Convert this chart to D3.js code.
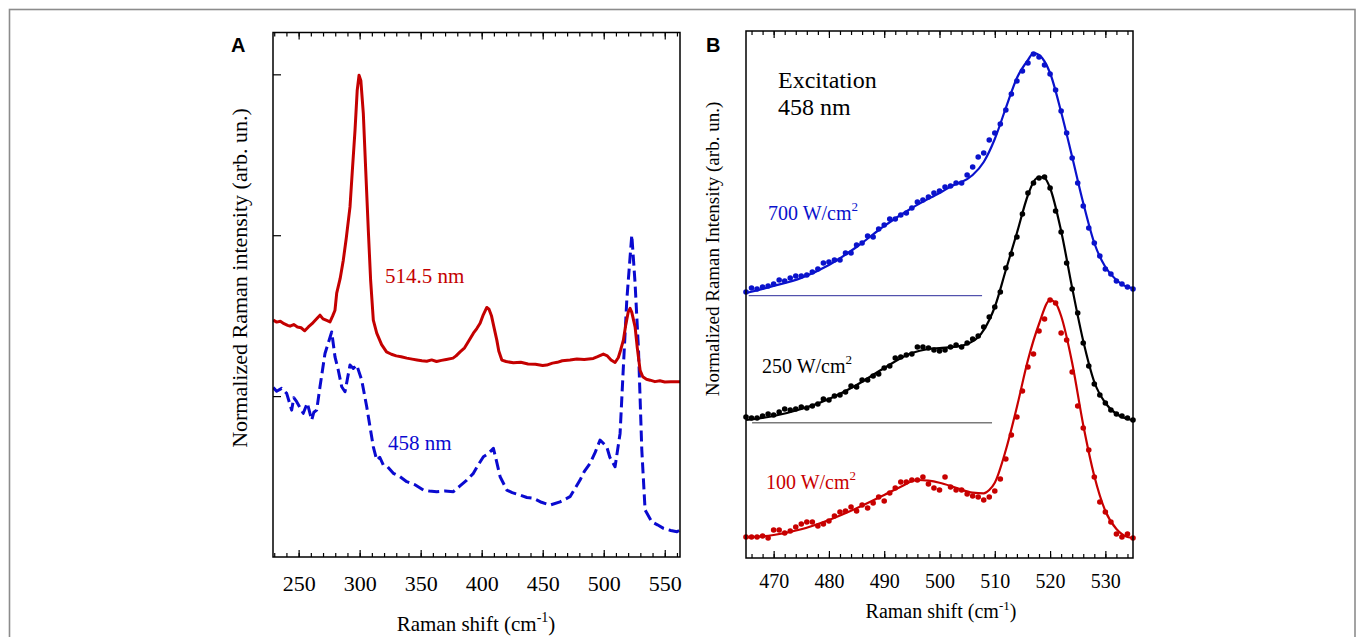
<!DOCTYPE html>
<html>
<head>
<meta charset="utf-8">
<script src="https://cdn.jsdelivr.net/npm/d3@7"></script>
<style>
  html, body { margin: 0; padding: 0; background: #fff; }
  svg { display: block; }
  text { font-family: "Liberation Serif", "Times New Roman", serif; }
  text.panel { font-family: "Liberation Sans", Arial, sans-serif; font-weight: bold; }
</style>
</head>
<body>
<svg id="fig" width="1358" height="637"></svg>
<script>
// ---------- Panel A: Raman spectra at two excitation wavelengths ----------
// [Raman shift (cm-1), normalized intensity]
const spectrum514 = [
  [229.2,1.472],[232,1.46],[235,1.465],[238,1.45],[241,1.44],[243,1.435],[246,1.445],[249,1.43],
  [252,1.425],[255,1.406],[258,1.43],[261,1.45],[264,1.475],[267.5,1.503],[270,1.48],[273,1.47],
  [275.7,1.461],[278,1.5],[279.8,1.534],[281.2,1.64],[284,1.73],[286.6,1.845],[289,1.98],[292.1,2.176],
  [294,2.4],[296.2,2.652],[298,2.9],[299.5,2.994],[301,2.96],[303,2.758],[305,2.4],[307.1,2.031],
  [309,1.72],[311.2,1.472],[314,1.391],[318,1.32],[322,1.275],[326,1.26],[330,1.25],[334,1.245],
  [338.6,1.236],[343,1.23],[347,1.225],[351,1.22],[355,1.217],[359,1.225],[363,1.215],[367,1.222],
  [371,1.228],[376.5,1.236],[379,1.25],[382.3,1.275],[386,1.3],[390,1.35],[393.2,1.391],[396,1.42],
  [398.7,1.453],[401,1.5],[404.2,1.551],[406,1.54],[408,1.5],[410,1.43],[412.4,1.348],[414,1.28],
  [416.5,1.224],[420,1.215],[426,1.207],[432,1.21],[438,1.2],[444,1.198],[450,1.19],[453.3,1.193],
  [458,1.205],[462,1.21],[466,1.22],[472.4,1.224],[478,1.23],[484,1.228],[491.5,1.234],[495,1.245],
  [499.7,1.261],[503,1.25],[506,1.225],[509.3,1.209],[512,1.24],[514,1.29],[516.1,1.348],[518,1.44],
  [520,1.52],[521.6,1.545],[523,1.52],[525.7,1.43],[527.5,1.3],[529.8,1.161],[532,1.12],[535,1.105],
  [538,1.099],[542,1.09],[546,1.095],[550,1.088],[555,1.09],[562.5,1.089]
];
const spectrum458 = [
  [229.2,1.054],[232,1.03],[236.1,1.048],[240.2,1.017],[244.3,0.913],[246,0.99],[248.4,0.965],
  [251,0.93],[253.8,0.893],[257.1,0.957],[260.7,0.851],[262.5,0.9],[264.8,0.913],[267.5,1.058],
  [271.6,1.265],[277.1,1.399],[279.8,1.244],[282.5,1.161],[285.3,1.058],[288,1.027],[292.1,1.193],
  [294.8,1.172],[297.6,1.193],[301.7,1.099],[305.8,0.934],[308.5,0.809],[311.2,0.685],[314,0.602],
  [316.5,0.62],[319.4,0.571],[323,0.56],[327.6,0.52],[333,0.5],[338.6,0.468],[345,0.45],[352.2,0.416],
  [357,0.41],[363.2,0.406],[370,0.41],[376.8,0.406],[382,0.44],[387.8,0.478],[393.2,0.52],[397,0.57],
  [401.4,0.623],[405,0.64],[409.6,0.675],[412,0.6],[415.1,0.499],[420.6,0.416],[425,0.4],[431.5,0.385],
  [437,0.37],[442.4,0.365],[449,0.34],[456,0.323],[464.2,0.343],[472.4,0.375],[476,0.42],[480.6,0.478],
  [484,0.53],[488.8,0.582],[493,0.65],[497,0.727],[502.5,0.685],[505,0.62],[509.3,0.561],[513.4,0.768],
  [516.1,1.182],[518.9,1.596],[521.6,1.865],[523,2.0],[525.7,1.7],[528.5,1.286],[531.2,0.665],
  [533.9,0.292],[539.4,0.219],[544,0.2],[549,0.178],[555,0.165],[560,0.157],[562.5,0.168]
];
const ticksA_major = [250, 300, 350, 400, 450, 500, 550];
const ticksA_minor = d3.range(230, 561, 10);
const ticksA_y = [1, 2, 3];

// ---------- Panel B: 458 nm excitation, three power densities ----------
const shiftB = d3.range(465, 536, 1);
const pts700 = [
  2.66,2.70,2.69,2.71,2.72,2.74,2.78,2.77,2.80,2.82,2.82,2.83,2.86,2.89,2.95,2.96,2.98,2.98,3.05,3.05,
  3.13,3.15,3.22,3.21,3.29,3.33,3.39,3.39,3.43,3.45,3.50,3.56,3.58,3.61,3.65,3.67,3.71,3.72,3.75,3.75,
  3.83,3.91,4.01,4.05,4.18,4.25,4.34,4.48,4.64,4.77,4.87,4.95,5.04,5.01,4.93,4.84,4.68,4.47,4.25,4.00,
  3.75,3.52,3.30,3.15,3.02,2.89,2.84,2.77,2.74,2.71,2.69
];
const pts250 = [
  1.41,1.40,1.40,1.42,1.44,1.43,1.46,1.49,1.48,1.49,1.51,1.50,1.52,1.54,1.59,1.58,1.62,1.63,1.66,1.72,
  1.71,1.78,1.78,1.82,1.84,1.90,1.92,2.00,2.01,2.03,2.04,2.11,2.11,2.10,2.08,2.07,2.08,2.11,2.13,2.11,
  2.15,2.19,2.22,2.31,2.41,2.51,2.66,2.90,3.04,3.21,3.44,3.65,3.75,3.80,3.81,3.70,3.47,3.26,2.95,2.69,
  2.45,2.15,1.92,1.74,1.63,1.55,1.48,1.44,1.42,1.40,1.38
];
const pts100 = [
  0.21,0.21,0.21,0.22,0.20,0.28,0.28,0.25,0.27,0.31,0.34,0.36,0.36,0.32,0.34,0.37,0.42,0.46,0.47,0.51,
  0.47,0.53,0.50,0.55,0.61,0.57,0.65,0.70,0.76,0.76,0.78,0.78,0.81,0.74,0.70,0.68,0.81,0.71,0.68,0.68,
  0.64,0.62,0.61,0.58,0.61,0.67,0.79,0.99,1.23,1.41,1.67,1.91,2.04,2.27,2.39,2.58,2.55,2.25,2.18,1.86,
  1.52,1.30,1.08,0.81,0.56,0.46,0.36,0.24,0.21,0.24,0.20
];
// fitted line shapes, [shift, intensity]
const fit700 = [
  [465,2.65],[470,2.72],[475,2.80],[480,2.93],[485,3.11],[490,3.32],[495,3.50],[500,3.65],[503,3.74],
  [504,3.76],[506,3.83],[508,3.96],[510,4.19],[512,4.50],[514,4.80],[516,4.98],[517,5.05],[518,5.03],
  [520,4.85],[522,4.46],[524,4.01],[526,3.55],[528,3.15],[530,2.91],[532,2.78],[534,2.71],[535,2.70]
];
const fit250 = [
  [465,1.38],[470,1.42],[475,1.49],[480,1.59],[485,1.73],[490,1.90],[495,2.05],[498,2.09],[500,2.10],
  [503,2.113],[505,2.14],[507,2.207],[509,2.38],[510,2.51],[512,2.88],[514,3.25],[516,3.63],[517,3.76],
  [518,3.81],[519,3.80],[520,3.70],[522,3.27],[524,2.70],[526,2.17],[528,1.76],[530,1.55],[532,1.44],
  [534,1.39],[535,1.38]
];
const fit100 = [
  [465,0.207],[470,0.23],[475,0.287],[480,0.38],[485,0.497],[490,0.63],[493,0.713],[496,0.78],[498,0.773],
  [500,0.753],[503,0.703],[506,0.653],[508,0.647],[509,0.68],[510,0.753],[512,1.08],[514,1.51],[516,1.98],
  [518,2.34],[520,2.58],[521,2.55],[522,2.42],[524,1.95],[526,1.33],[528,0.82],[530,0.47],[532,0.29],
  [534,0.21],[535,0.20]
];
// baselines under the 700 and 250 W/cm2 spectra: [y, from, to]
const baseline700 = [2.623, 465.5, 507.7];
const baseline250 = [1.353, 466.1, 509.5];
const ticksB_major = [470, 480, 490, 500, 510, 520, 530];
const ticksB_minor = d3.range(466, 535, 2);

const RED = "#c40000", BLUE = "#0a0ad0", BLACK = "#000";

const svg = d3.select("#fig");

// outer frame
svg.append("rect").attr("x", 9.5).attr("y", 9.5).attr("width", 1345.5).attr("height", 700)
  .attr("fill", "none").attr("stroke", "#8c8c8c").attr("stroke-width", 1.6);

function tickAxes(g, x, y, major, minor, majorLen, minorLen, fontSize, pad) {
  const [x0, x1] = x.range(), [y0, y1] = y.range();
  // bottom ticks with labels
  g.append("g").attr("transform", `translate(0,${y0})`)
    .call(d3.axisBottom(x).tickValues(minor).tickSize(-minorLen).tickSizeOuter(0).tickFormat(""))
    .call(a => a.select(".domain").remove());
  g.append("g").attr("transform", `translate(0,${y0})`)
    .call(d3.axisBottom(x).tickValues(major).tickSize(-majorLen).tickSizeOuter(0).tickPadding(pad).tickFormat(d3.format("d")))
    .call(a => a.select(".domain").remove())
    .call(a => a.selectAll("text").attr("font-size", fontSize).attr("fill", "#000"));
  // mirrored ticks on top
  g.append("g").attr("transform", `translate(0,${y1})`)
    .call(d3.axisTop(x).tickValues(minor).tickSize(-minorLen).tickSizeOuter(0).tickFormat(""))
    .call(a => a.select(".domain").remove());
  g.append("g").attr("transform", `translate(0,${y1})`)
    .call(d3.axisTop(x).tickValues(major).tickSize(-majorLen).tickSizeOuter(0).tickFormat(""))
    .call(a => a.select(".domain").remove());
  g.selectAll(".tick line").attr("stroke", "#000").attr("stroke-width", 1.2);
  // box
  g.append("rect").attr("x", x0).attr("y", y1).attr("width", x1 - x0).attr("height", y0 - y1)
    .attr("fill", "none").attr("stroke", "#000").attr("stroke-width", 1.5);
}

// ---------- Panel A ----------
const xA = d3.scaleLinear([229, 562.5], [273, 680]);
const yA = d3.scaleLinear([0, 3.26], [557, 32.5]);
const gA = svg.append("g");

svg.append("clipPath").attr("id", "clipA").append("rect")
  .attr("x", 273).attr("y", 32.5).attr("width", 407).attr("height", 524.5);

const lineA = d3.line().x(d => xA(d[0])).y(d => yA(d[1]));
gA.append("path").datum(spectrum458).attr("d", lineA).attr("clip-path", "url(#clipA)")
  .attr("fill", "none").attr("stroke", BLUE).attr("stroke-width", 3)
  .attr("stroke-dasharray", "11,5").attr("stroke-linejoin", "round");
gA.append("path").datum(spectrum514).attr("d", lineA).attr("clip-path", "url(#clipA)")
  .attr("fill", "none").attr("stroke", RED).attr("stroke-width", 3).attr("stroke-linejoin", "round");

tickAxes(gA, xA, yA, ticksA_major, ticksA_minor, 7, 4, 22, 18);
gA.append("g").attr("transform", "translate(273,0)")
  .call(d3.axisLeft(yA).tickValues(ticksA_y).tickSize(-8).tickSizeOuter(0).tickFormat(""))
  .call(a => a.select(".domain").remove())
  .call(a => a.selectAll("line").attr("stroke", "#000").attr("stroke-width", 1.2));

gA.append("text").attr("x", 385).attr("y", 283).attr("font-size", 21).attr("fill", RED).text("514.5 nm");
gA.append("text").attr("x", 388).attr("y", 450).attr("font-size", 21).attr("fill", BLUE).text("458 nm");

gA.append("text").attr("transform", "translate(247,278) rotate(-90)").attr("text-anchor", "middle")
  .attr("font-size", 22).text("Normalized Raman intensity (arb. un.)");
const tA = gA.append("text").attr("x", 476).attr("y", 631).attr("text-anchor", "middle").attr("font-size", 21);
tA.append("tspan").text("Raman shift (cm");
tA.append("tspan").attr("font-size", 14).attr("dy", -9).text("-1");
tA.append("tspan").attr("dy", 9).text(")");

gA.append("text").attr("class", "panel").attr("x", 231).attr("y", 52).attr("font-size", 20).text("A");

// ---------- Panel B ----------
const xB = d3.scaleLinear([465, 535], [746, 1133]);
const yB = d3.scaleLinear([0, 5.27], [558, 31]);
const gB = svg.append("g");

const lineB = d3.line().x(d => xB(d[0])).y(d => yB(d[1])).curve(d3.curveMonotoneX);

gB.append("line").attr("x1", xB(baseline700[1])).attr("x2", xB(baseline700[2]))
  .attr("y1", yB(baseline700[0])).attr("y2", yB(baseline700[0]))
  .attr("stroke", "#2a2a9a").attr("stroke-width", 1);
gB.append("line").attr("x1", xB(baseline250[1])).attr("x2", xB(baseline250[2]))
  .attr("y1", yB(baseline250[0])).attr("y2", yB(baseline250[0]))
  .attr("stroke", "#7a7a7a").attr("stroke-width", 1.4);

const seriesB = [
  { pts: pts700, fit: fit700, color: "#0a12cc" },
  { pts: pts250, fit: fit250, color: BLACK },
  { pts: pts100, fit: fit100, color: "#c80000" }
];
seriesB.forEach(s => {
  gB.append("path").datum(s.fit).attr("d", lineB)
    .attr("fill", "none").attr("stroke", s.color).attr("stroke-width", 2.2);
  gB.append("g").selectAll("circle").data(s.pts).join("circle")
    .attr("cx", (d, i) => xB(shiftB[i])).attr("cy", d => yB(d)).attr("r", 2.8).attr("fill", s.color);
});

tickAxes(gB, xB, yB, ticksB_major, ticksB_minor, 7, 4, 20, 16);

gB.append("text").attr("x", 778).attr("y", 88).attr("font-size", 24).text("Excitation");
gB.append("text").attr("x", 778).attr("y", 115).attr("font-size", 24).text("458 nm");

function powerLabel(x, y, value, color) {
  const t = gB.append("text").attr("x", x).attr("y", y).attr("font-size", 20).attr("fill", color);
  t.append("tspan").text(value + " W/cm");
  t.append("tspan").attr("font-size", 13).attr("dy", -9).text("2");
}
powerLabel(768, 220, 700, "#0a12cc");
powerLabel(762, 373, 250, BLACK);
powerLabel(766, 489, 100, "#c80000");

gB.append("text").attr("transform", "translate(719,249) rotate(-90)").attr("text-anchor", "middle")
  .attr("font-size", 19).text("Normalized Raman Intensity (arb. un.)");
const tB = gB.append("text").attr("x", 941).attr("y", 618).attr("text-anchor", "middle").attr("font-size", 20);
tB.append("tspan").text("Raman shift (cm");
tB.append("tspan").attr("font-size", 13).attr("dy", -8).text("-1");
tB.append("tspan").attr("dy", 8).text(")");

gB.append("text").attr("class", "panel").attr("x", 706).attr("y", 52).attr("font-size", 20).text("B");
</script>
</body>
</html>
